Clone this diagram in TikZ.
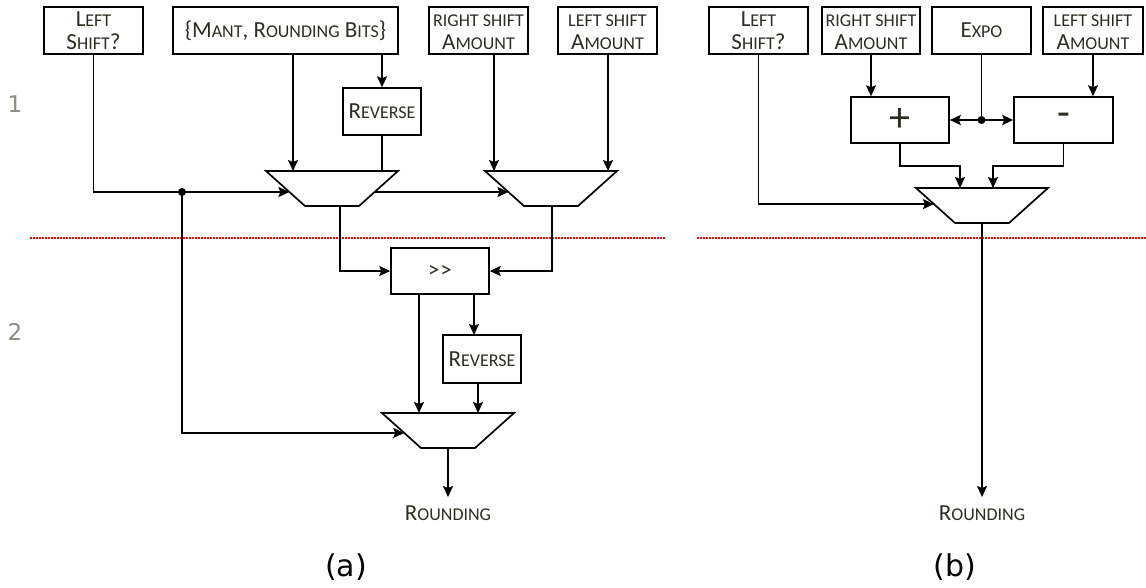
\documentclass[tikz,border=0pt]{standalone}
\usepackage{fontspec}
\setmainfont{Carlito}
\newfontfamily\numfont{DejaVu Sans}
\usetikzlibrary{arrows.meta,calc}

% text sizes: capitals and faked small capitals
\newcommand\capfont{\fontsize{23}{22.5}\selectfont}
\newcommand\scfont{\fontsize{18}{22.5}\selectfont}
\newcommand\Sc[2]{#1{\scfont #2}}

\definecolor{ink}{RGB}{45,45,35}
\definecolor{stagegray}{RGB}{140,140,128}

% a multiplexer: trapezoid with the wide side on top
% #1 name, #2 centre x, #3 top y
\newcommand\mux[3]{%
  \coordinate (#1-tl) at ({#2-66},#3);
  \coordinate (#1-tr) at ({#2+66},#3);
  \coordinate (#1-br) at ({#2+27},{#3+35});
  \coordinate (#1-bl) at ({#2-27},{#3+35});
  \draw[wire] (#1-tl) -- (#1-tr) -- (#1-br) -- (#1-bl) -- cycle;
}

\tikzset{
  wire/.style={line width=1.7pt, line join=miter},
  arr/.style={wire, -{Stealth[length=11pt,width=10pt,inset=2pt]}},
  blk/.style={draw, line width=1.5pt, minimum height=47, inner sep=0pt,
              align=center, font=\capfont, text=ink},
  bigsign/.style={blk, minimum height=46, font=\fontsize{42}{42}\selectfont},
  lbl/.style={font=\capfont, text=ink, inner sep=0pt},
  stagenum/.style={font=\numfont\fontsize{23}{25}\selectfont, text=stagegray, inner sep=0pt},
  caption/.style={font=\numfont\fontsize{30}{32}\selectfont, inner sep=0pt},
  stageline/.style={red, line width=1.6pt, dash pattern=on 1.5pt off 1.5pt},
  jdot/.style={circle, fill, inner sep=0pt, minimum size=8pt},
}

% two stacked lines, set a little low in their box
\newcommand\twol[2]{\raisebox{-3pt}[\height][\depth]{\begin{tabular}{@{}c@{}}#1\\#2\end{tabular}}}

\begin{document}
\begin{tikzpicture}[x=1pt,y=-1pt]
\useasboundingbox (0,0) rectangle (1146,587);

% ---------------- pipeline stage separators ----------------
\draw[stageline] (30,238) -- (666,238);
\draw[stageline] (697,238) -- (1146,238);
\node[stagenum] (s1) at (15,104) {1};
\node[stagenum] (s2) at (15,332) {2};

% ================= (a) =================
\node[blk, minimum width=99] (aL) at (93.5,30.5) {\twol{\Sc{L}{EFT}}{\Sc{S}{HIFT}?}};
\node[blk, minimum width=225] (aM) at (285.5,30.5) {\{\Sc{M}{ANT}, \Sc{R}{OUNDING} \Sc{B}{ITS}\}};
\node[blk, minimum width=99] (aR) at (478.5,30.5) {\twol{{\scfont RIGHT SHIFT}}{\Sc{A}{MOUNT}}};
\node[blk, minimum width=99] (aLs) at (607.5,30.5) {\twol{{\scfont LEFT SHIFT}}{\Sc{A}{MOUNT}}};
\node[blk, minimum width=78] (rev1) at (382,111.5) {\Sc{R}{EVERSE}};
\node[blk, minimum width=98, minimum height=46] (shr) at (440,271) {>\kern1pt>};
\node[blk, minimum width=78, minimum height=48] (rev2) at (482,359) {\Sc{R}{EVERSE}};
\node[lbl] (aout) at (448,513) {\Sc{R}{OUNDING}};
\node[caption] (capa) at (346,567) {(a)};

\mux{m1}{332}{171}
\mux{m2}{551}{171}
\mux{m3}{448}{413}

\coordinate (m1sel)  at ($(m1-tl)!0.6!(m1-bl)$);
\coordinate (m1selr) at ($(m1-tr)!0.6!(m1-br)$);
\coordinate (m2sel)  at ($(m2-tl)!0.6!(m2-bl)$);
\coordinate (m3sel)  at ($(m3-tl)!0.57!(m3-bl)$);
\coordinate (m1a) at (293,171);
\coordinate (m1b) at (382,171);
\coordinate (m2a) at (494,171);
\coordinate (m2b) at (608,171);
\coordinate (m1out) at (340,206);
\coordinate (m2out) at (552,206);
\coordinate (m3a) at (419,413);
\coordinate (m3b) at (478,413);
\coordinate (m3out) at (448,448);
\coordinate (j1) at (182,192);
\coordinate (revin) at (474,335);
\coordinate (aend) at (448,497);

\draw[arr] (aL.south) |- (m1sel);
\draw[arr] (j1) |- (m3sel);
\node[jdot] (d1) at (j1) {};
\draw[arr] (m1selr) -- (m2sel);
\draw[arr] (aM.south -| m1a) -- (m1a);
\draw[arr] (aM.south -| rev1.north) -- (rev1.north);
\draw[wire] (rev1.south) -- (m1b);
\draw[arr] (aR.south -| m2a) -- (m2a);
\draw[arr] (aLs.south -| m2b) -- (m2b);
\draw[arr] (m1out) |- (shr.west);
\draw[arr] (m2out) |- (shr.east);
\draw[arr] (shr.south -| m3a) -- (m3a);
\draw[arr] (shr.south -| revin) -- (revin);
\draw[arr] (rev2.south -| m3b) -- (m3b);
\draw[arr] (m3out) -- (aend);

% ================= (b) =================
\node[blk, minimum width=99] (bL) at (758.5,30.5) {\twol{\Sc{L}{EFT}}{\Sc{S}{HIFT}?}};
\node[blk, minimum width=98] (bR) at (871,30.5) {\twol{{\scfont RIGHT SHIFT}}{\Sc{A}{MOUNT}}};
\node[blk, minimum width=99] (bE) at (981.5,30.5) {\Sc{E}{XPO}};
\node[blk, minimum width=100] (bLs) at (1093,30.5) {\twol{{\scfont LEFT SHIFT}}{\Sc{A}{MOUNT}}};
\node[bigsign, minimum width=98] (plus) at (900,120) {+};
\node[bigsign, minimum width=99] (minus) at (1063.5,120) {-};
\node[lbl] (bout) at (982,513) {\Sc{R}{OUNDING}};
\node[caption] (capb) at (955,567) {(b)};

\mux{m4}{982}{188}
\coordinate (m4sel) at ($(m4-tl)!0.46!(m4-bl)$);
\coordinate (m4a) at (960,188);
\coordinate (m4b) at (993,188);
\coordinate (m4out) at (982,223);
\coordinate (bend) at (982,497);

\draw[arr] (bL.south) |- (m4sel);
\draw[arr] (bR.south) -- (bR.south |- plus.north);
\draw[arr] (bLs.south) -- (bLs.south |- minus.north);
\coordinate (j2) at (bE.south |- plus.east);
\draw[wire] (bE.south) -- (j2);
\draw[arr] (j2) -- (plus.east);
\draw[arr] (j2) -- (minus.west);
\node[jdot] (d2) at (j2) {};
\draw[arr] (plus.south) |- ($(m4a)+(0,-22)$) -- (m4a);
\draw[arr] (minus.south) |- ($(m4b)+(0,-22)$) -- (m4b);
\draw[arr] (m4out) -- (bend);
\end{tikzpicture}
\end{document}
